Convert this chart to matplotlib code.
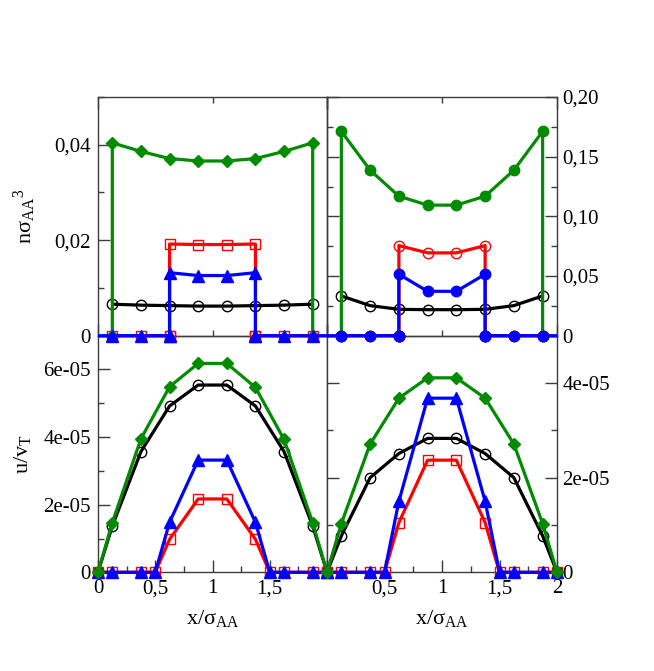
import numpy as np
import matplotlib
matplotlib.use("Agg")
import matplotlib.pyplot as plt
from matplotlib.ticker import MultipleLocator, FixedLocator, FixedFormatter

plt.rcParams['font.family'] = ['Liberation Serif', 'DejaVu Serif']
plt.rcParams['mathtext.fontset'] = 'custom'
plt.rcParams['mathtext.rm'] = 'Liberation Serif'
plt.rcParams['mathtext.it'] = 'Liberation Serif:italic'
plt.rcParams['lines.solid_joinstyle'] = 'round'
plt.rcParams['lines.solid_capstyle'] = 'butt'

# data: positions of the bins across the slit (x / sigma_AA)
x_bins = [0.125, 0.375, 0.625, 0.875, 1.125, 1.375, 1.625, 1.875]
x_inner = [0.625, 0.875, 1.125, 1.375]

# density profiles n sigma^3 (top row)
n_left_black = [0.0066, 0.0064, 0.0063, 0.0062, 0.0062, 0.0063, 0.0064, 0.0066]
n_left_green = [0.0404, 0.0386, 0.0371, 0.0366, 0.0366, 0.0371, 0.0386, 0.0404]
n_left_red = [0.0192, 0.0191, 0.0191, 0.0192]
n_left_blue = [0.0132, 0.0126, 0.0126, 0.0132]

n_right_black = [0.0333, 0.0252, 0.0221, 0.0218, 0.0218, 0.0221, 0.0252, 0.0333]
n_right_green = [0.1712, 0.1387, 0.1169, 0.1094, 0.1094, 0.1169, 0.1387, 0.1712]
n_right_red = [0.0755, 0.0694, 0.0694, 0.0755]
n_right_blue = [0.0515, 0.0372, 0.0372, 0.0515]

# velocity profiles u / v_T (bottom row)
x_u_wide = [0, 0.125, 0.375, 0.625, 0.875, 1.125, 1.375, 1.625, 1.875, 2]
x_u_narrow = [0, 0.125, 0.375, 0.5, 0.625, 0.875, 1.125, 1.375, 1.5, 1.625, 1.875, 2]

u_left_green = [0, 1.47e-5, 3.95e-5, 5.49e-5, 6.18e-5, 6.18e-5, 5.47e-5, 3.93e-5, 1.47e-5, 0]
u_left_black = [0, 1.37e-5, 3.57e-5, 4.92e-5, 5.54e-5, 5.54e-5, 4.92e-5, 3.57e-5, 1.37e-5, 0]
u_left_blue = [0, 0, 0, 0, 1.48e-5, 3.32e-5, 3.32e-5, 1.48e-5, 0, 0, 0, 0]
u_left_red = [0, 0, 0, 0, 0.975e-5, 2.17e-5, 2.17e-5, 0.975e-5, 0, 0, 0, 0]

u_right_green = [0, 1.03e-5, 2.71e-5, 3.68e-5, 4.11e-5, 4.11e-5, 3.68e-5, 2.71e-5, 1.03e-5, 0]
u_right_black = [0, 0.77e-5, 2.00e-5, 2.51e-5, 2.83e-5, 2.83e-5, 2.51e-5, 2.00e-5, 0.77e-5, 0]
u_right_blue = [0, 0, 0, 0, 1.50e-5, 3.68e-5, 3.68e-5, 1.50e-5, 0, 0, 0, 0]
u_right_red = [0, 0, 0, 0, 1.05e-5, 2.37e-5, 2.37e-5, 1.05e-5, 0, 0, 0, 0]

# tick labels
n_left_ticks = [0, 0.02, 0.04]
n_left_labels = ['0', '0,02', '0,04']
n_right_ticks = [0, 0.05, 0.10, 0.15, 0.20]
n_right_labels = ['0', '0,05', '0,10', '0,15', '0,20']
u_left_ticks = [0, 2e-5, 4e-5, 6e-5]
u_left_labels = ['0', '2e-05', '4e-05', '6e-05']
u_right_ticks = [0, 2e-5, 4e-5]
u_right_labels = ['0', '2e-05', '4e-05']
x_ticks = [0, 0.5, 1, 1.5, 2]
x_left_labels = ['0', '0,5', '1', '1,5', '']
x_right_labels = ['', '0,5', '1', '1,5', '2']

GREEN = '#008b00'
SPINE = '#3c3c3c'
LW = 2.3
MS_O = 7.5   # circles
MS_D = 6.5   # diamonds
MS_S = 6.5   # squares
MS_T = 8.0   # triangles


def wall_series(values):
    # full-width profile that drops to zero at the outer bins
    xs = [x_bins[0]] + x_bins + [x_bins[-1]]
    ys = [0] + list(values) + [0]
    return xs, ys


def slit_series(values, with_ends=False):
    # profile that only lives in the central bins, zero elsewhere
    xs = x_bins[:3] + [x_inner[0]] + x_inner + [x_inner[-1]] + x_bins[5:]
    ys = [0, 0, 0, 0] + list(values) + [0, 0, 0, 0]
    if with_ends:
        xs = [0] + xs + [2]
        ys = [0] + ys + [0]
    return xs, ys


fig = plt.figure(figsize=(6.54, 6.71), dpi=100)
L, M, R = 98 / 654, 327 / 654, 557 / 654
T, Mid, B = 1 - 97 / 671, 1 - 335.7 / 671, 1 - 572.3 / 671

ax_bl = fig.add_axes([L, B, M - L, Mid - B])
ax_br = fig.add_axes([M, B, R - M, Mid - B])
ax_tl = fig.add_axes([L, Mid, M - L, T - Mid])
ax_tr = fig.add_axes([M, Mid, R - M, T - Mid])
# top row is drawn above the bottom row so its zero line is not cut in half
for ax in (ax_tl, ax_tr):
    ax.set_zorder(3)
    ax.patch.set_visible(False)

for ax in (ax_tl, ax_tr, ax_bl, ax_br):
    ax.set_xlim(0, 2)
    for s in ax.spines.values():
        s.set_color(SPINE)
        s.set_linewidth(1.0)
    ax.tick_params(which='both', direction='in', color=SPINE, width=1.0,
                   labelsize=15)
    ax.tick_params(which='major', length=8.5)
    ax.tick_params(which='minor', length=4.5)

# ---- top left: densities, squares / triangles / diamonds
x, y = wall_series(n_left_green)
ax_tl.plot(x_bins, n_left_black, '-o', color='black', lw=LW, ms=MS_O,
           mfc='none', mew=1.0, zorder=2, clip_on=False)
ax_tl.plot(x, y, '-D', color=GREEN, lw=LW, ms=MS_D, zorder=3, clip_on=False)
x, y = slit_series(n_left_red)
ax_tl.plot(x, y, '-s', color='red', lw=LW, ms=MS_S, mfc='none', mew=1.0,
           zorder=4, clip_on=False)
x, y = slit_series(n_left_blue, with_ends=True)
ax_tl.plot(x, y, '-^', color='blue', lw=LW, ms=MS_T,
           markevery=list(range(1, len(x) - 1)), zorder=5, clip_on=False)

# ---- top right: densities, circles
x, y = wall_series(n_right_green)
ax_tr.plot(x_bins, n_right_black, '-o', color='black', lw=LW, ms=MS_O,
           mfc='none', mew=1.0, zorder=2, clip_on=False)
ax_tr.plot(x, y, '-o', color=GREEN, lw=LW, ms=MS_O, zorder=3, clip_on=False)
x, y = slit_series(n_right_red)
ax_tr.plot(x, y, '-o', color='red', lw=LW, ms=MS_O, mfc='none', mew=1.0,
           zorder=4, clip_on=False)
x, y = slit_series(n_right_blue, with_ends=True)
ax_tr.plot(x, y, '-o', color='blue', lw=LW, ms=MS_O,
           markevery=list(range(1, len(x) - 1)), zorder=5, clip_on=False)

# ---- bottom: velocities
for ax, g, k, b, r in ((ax_bl, u_left_green, u_left_black, u_left_blue, u_left_red),
                       (ax_br, u_right_green, u_right_black, u_right_blue, u_right_red)):
    ax.plot(x_u_wide, k, '-o', color='black', lw=LW, ms=MS_O, mfc='none',
            mew=1.0, zorder=2, clip_on=False)
    ax.plot(x_u_narrow, r, '-s', color='red', lw=LW, ms=MS_S, mfc='none',
            mew=1.0, zorder=3, clip_on=False)
    ax.plot(x_u_narrow, b, '-^', color='blue', lw=LW, ms=MS_T, zorder=4,
            clip_on=False)
    ax.plot(x_u_wide, g, '-D', color=GREEN, lw=LW, ms=MS_D, zorder=5,
            clip_on=False)

# ---- axes limits and ticks
ax_tl.set_ylim(0, 0.05)
ax_tr.set_ylim(0, 0.20)
ax_bl.set_ylim(0, 7e-5)
ax_br.set_ylim(0, 5e-5)

for ax in (ax_tl, ax_tr):
    ax.xaxis.set_major_locator(MultipleLocator(2))
    ax.xaxis.set_minor_locator(MultipleLocator(1))
    ax.tick_params(axis='x', which='both', top=True, bottom=True, labelbottom=False)

for ax, labels in ((ax_bl, x_left_labels), (ax_br, x_right_labels)):
    ax.xaxis.set_major_locator(FixedLocator(x_ticks))
    ax.xaxis.set_major_formatter(FixedFormatter(labels))
    ax.xaxis.set_minor_locator(MultipleLocator(0.25))
    ax.tick_params(axis='x', which='both', top=False, bottom=True, pad=5)

ax_tl.yaxis.set_major_locator(FixedLocator(n_left_ticks))
ax_tl.yaxis.set_major_formatter(FixedFormatter(n_left_labels))
ax_tl.yaxis.set_minor_locator(MultipleLocator(0.01))

ax_tr.yaxis.set_major_locator(FixedLocator(n_right_ticks))
ax_tr.yaxis.set_major_formatter(FixedFormatter(n_right_labels))
ax_tr.yaxis.set_minor_locator(MultipleLocator(0.025))

ax_bl.yaxis.set_major_locator(FixedLocator(u_left_ticks))
ax_bl.yaxis.set_major_formatter(FixedFormatter(u_left_labels))
ax_bl.yaxis.set_minor_locator(MultipleLocator(1e-5))

ax_br.yaxis.set_major_locator(FixedLocator(u_right_ticks))
ax_br.yaxis.set_major_formatter(FixedFormatter(u_right_labels))
ax_br.yaxis.set_minor_locator(MultipleLocator(1e-5))

for ax in (ax_tl, ax_bl):
    ax.tick_params(axis='y', which='both', left=True, right=False, pad=5)
for ax in (ax_tr, ax_br):
    ax.tick_params(axis='y', which='both', left=True, right=True,
                   labelleft=False, labelright=True, pad=4)

# ---- axis labels
ax_tl.set_ylabel('nσ$_{\\rm AA}{}^{3}$', fontsize=16)
ax_tl.yaxis.set_label_coords(-0.262, 0.5)
ax_bl.set_ylabel('u/v$_{\\rm T}$', fontsize=16)
ax_bl.yaxis.set_label_coords(-0.284, 0.5)
for ax in (ax_bl, ax_br):
    ax.set_xlabel('x/σ$_{\\rm AA}$', fontsize=16)
    ax.xaxis.set_label_coords(0.5, -0.15)
    ax.xaxis.label.set_va('top')

fig.savefig('out.png', dpi=100)
